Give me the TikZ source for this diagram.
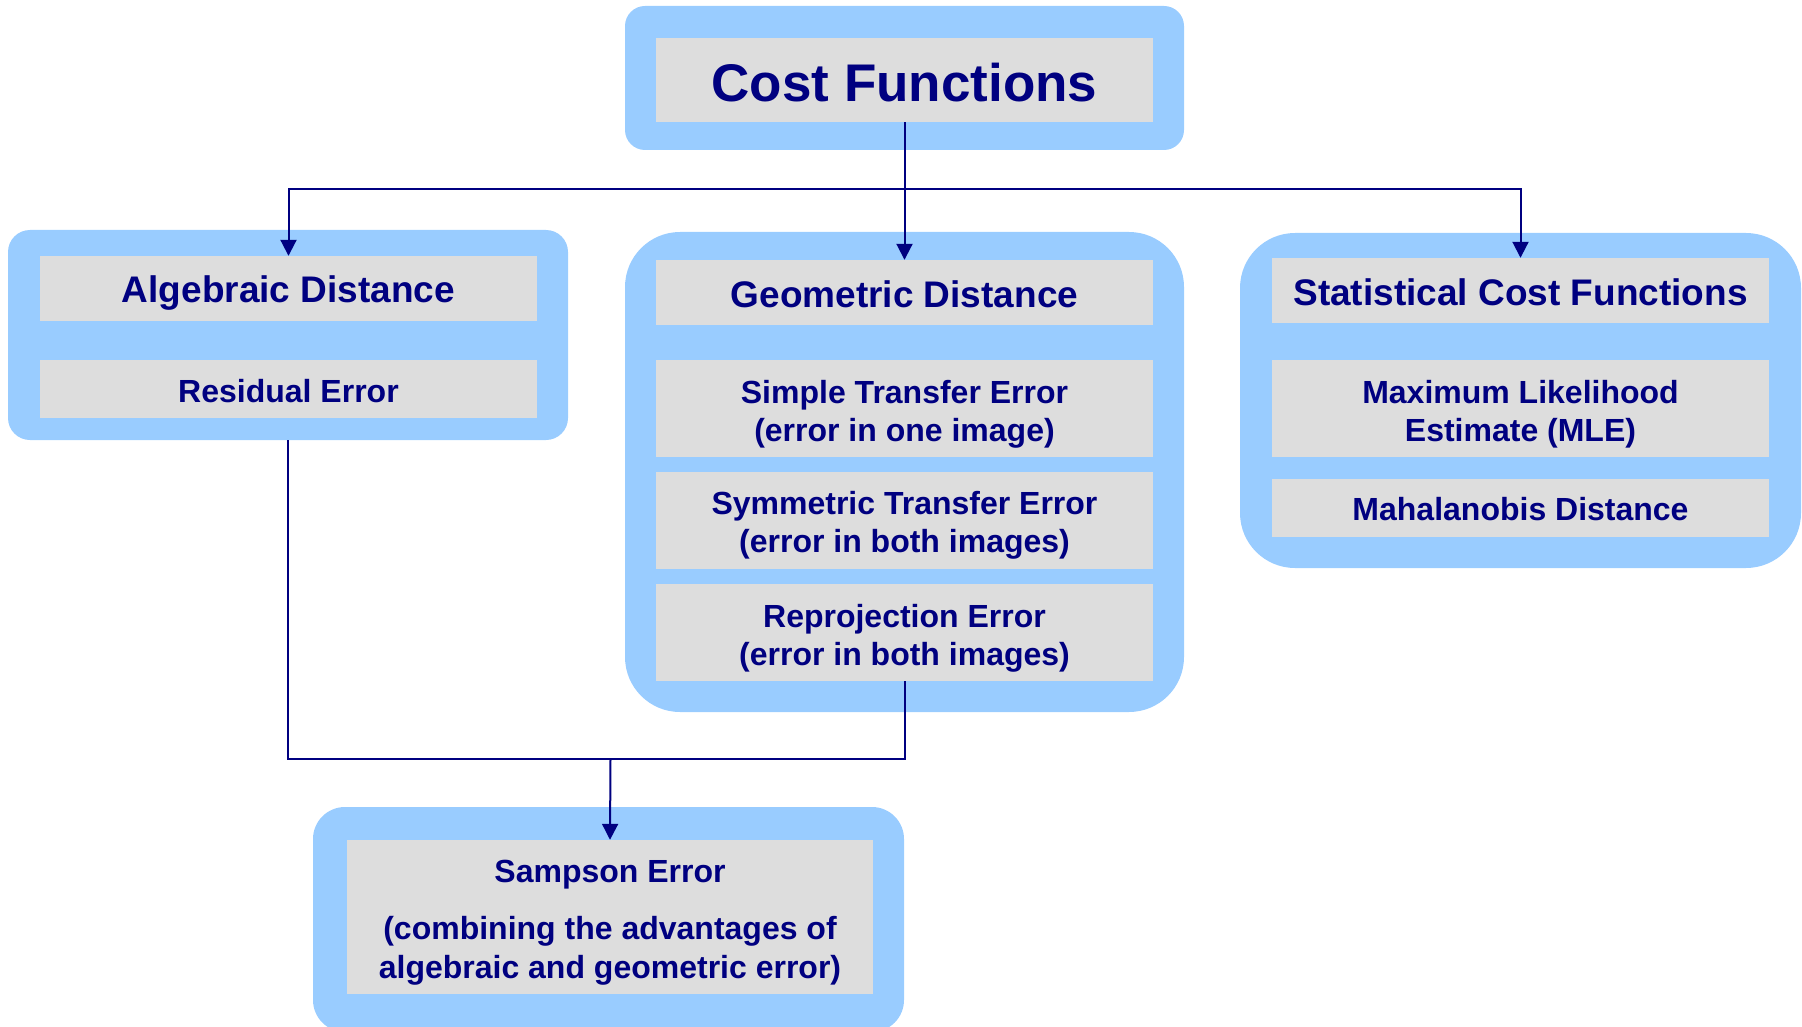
\documentclass[tikz,border=0pt]{standalone}
\usepackage{fontspec}
\setmainfont{Liberation Sans}
\usetikzlibrary{arrows.meta}
\definecolor{navy}{RGB}{0,0,128}
\definecolor{outerblue}{RGB}{153,204,255}
\definecolor{greyfill}{RGB}{221,221,221}
\begin{document}
\begin{tikzpicture}[x=1pt,y=-1pt,
  outerbox/.style={fill=outerblue, draw=none, inner sep=0pt},
  greybox/.style={fill=greyfill, draw=none, inner sep=0pt, minimum width=497pt},
  lbl/.style={inner sep=0pt, text=navy, align=center,
    font=\bfseries\fontsize{32}{38}\selectfont},
  titlefont/.style={font=\bfseries\fontsize{53}{64}\selectfont},
  headfont/.style={font=\bfseries\fontsize{37}{44}\selectfont},
  conn/.style={draw=navy, line width=2pt},
  arr/.style={conn, -{Triangle[length=16pt,width=16pt]}}]
\useasboundingbox (0,0) rectangle (1802,1027);
\clip (0,0) rectangle (1802,1027);
% outer boxes
\node[outerbox, rounded corners=20pt, minimum width=559pt, minimum height=144pt] (costO) at (904.5,78) {};
\node[outerbox, rounded corners=22pt, minimum width=560pt, minimum height=210pt] (algO) at (288,335) {};
\node[outerbox, rounded corners=55pt, minimum width=559pt, minimum height=480pt] (geoO) at (904.5,472) {};
\node[outerbox, rounded corners=55pt, minimum width=561pt, minimum height=335pt] (statO) at (1520.5,400.5) {};
\node[outerbox, rounded corners=32pt, minimum width=591pt, minimum height=225pt] (sampO) at (608.5,919.5) {};
% grey boxes
\node[greybox, minimum height=84pt] (cost) at (904.5,80) {};
\node[greybox, minimum height=65pt] (alg) at (288.5,288.5) {};
\node[greybox, minimum height=58pt] (resid) at (288.5,389) {};
\node[greybox, minimum height=65pt] (geo) at (904.5,292.5) {};
\node[greybox, minimum height=97pt] (simple) at (904.5,408.5) {};
\node[greybox, minimum height=97pt] (symm) at (904.5,520.5) {};
\node[greybox, minimum height=97pt] (reproj) at (904.5,632.5) {};
\node[greybox, minimum height=65pt] (stat) at (1520.5,290.5) {};
\node[greybox, minimum height=97pt] (mle) at (1520.5,408.5) {};
\node[greybox, minimum height=58pt] (mahal) at (1520.5,508) {};
\node[greybox, minimum width=526pt, minimum height=154pt] (samp) at (610,917) {};
% labels
\node[lbl, titlefont] (costT) at ([yshift=-2.5pt]cost.center) {Cost Functions};
\node[lbl, headfont] (algT) at ([yshift=-4.5pt]alg.center) {Algebraic Distance};
\node[lbl] (residT) at ([yshift=-2.5pt]resid.center) {Residual Error};
\node[lbl, headfont] (geoT) at ([yshift=-1.5pt]geo.center) {Geometric Distance};
\node[lbl] (simpleT) at ([yshift=-5.5pt]simple.center) {Simple Transfer Error\\(error in one image)};
\node[lbl] (symmT) at ([yshift=-5pt]symm.center) {Symmetric Transfer Error\\(error in both images)};
\node[lbl] (reprojT) at ([yshift=-5.5pt]reproj.center) {Reprojection Error\\(error in both images)};
\node[lbl, headfont] (statT) at ([yshift=-1.5pt]stat.center) {Statistical Cost Functions};
\node[lbl] (mleT) at ([yshift=-5.5pt]mle.center) {Maximum Likelihood\\Estimate (MLE)};
\node[lbl] (mahalT) at ([yshift=-1.5pt]mahal.center) {Mahalanobis Distance};
\node[lbl] (sampT) at ([yshift=-5.5pt]samp.center) {Sampson Error\\[19pt](combining the advantages of\\[1pt]algebraic and geometric error)};
% connectors
\coordinate (hub) at (904.5,189.3);
\coordinate (low) at (610.5,759.3);
\draw[arr] (cost.south) -- (geo.north);
\draw[arr] (hub) -| (alg.north);
\draw[arr] (hub) -| (stat.north);
\draw[conn] (algO.south) -- (algO.south |- low) -- (reproj.south |- low) -- (reproj.south);
\draw[arr] (low) -- (samp.north);
\end{tikzpicture}
\end{document}
